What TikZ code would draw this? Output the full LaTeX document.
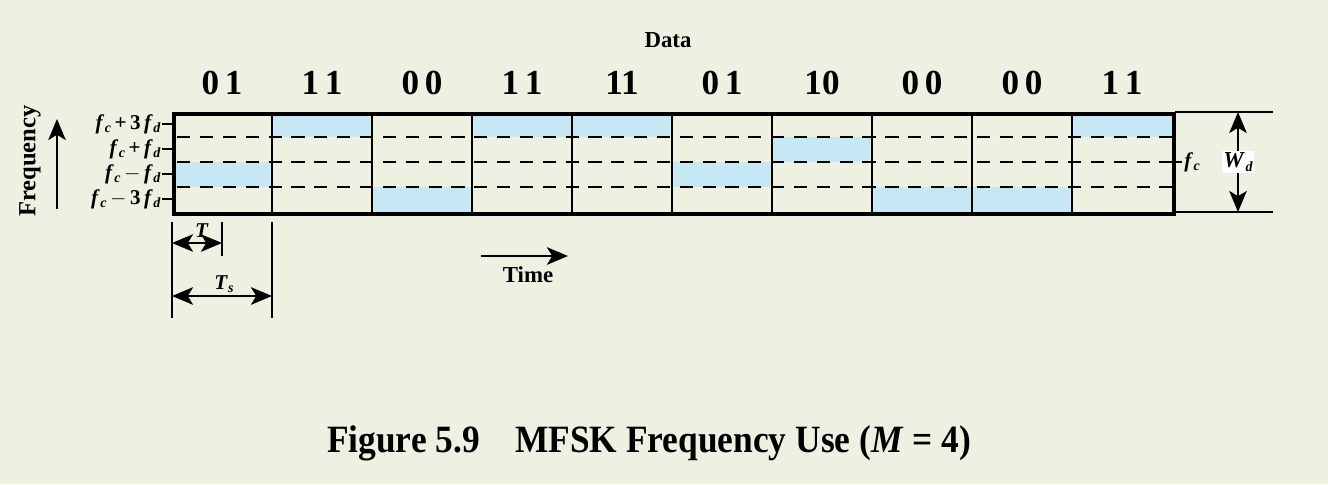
\documentclass[tikz,border=0pt]{standalone}
\usepackage{fontspec}
\setmainfont{Liberation Serif}
\usetikzlibrary{arrows.meta}
\definecolor{bg}{HTML}{EEF0E2}
\definecolor{hl}{HTML}{C8E7F5}
\newcommand{\fvar}[1]{\textit{f}\kern0.3pt\raisebox{-0.35ex}{\footnotesize\textit{#1}}}
\begin{document}
\begin{tikzpicture}[x=0.02cm,y=-0.02cm,
  lbl/.style={font=\bfseries\fontsize{12}{14}\selectfont, inner sep=0pt},
  digits/.style={font=\bfseries\fontsize{20}{24}\selectfont, inner sep=0pt},
  tip/.tip={Stealth[length=12pt,width=10pt,inset=3pt]},
  arr/.style={-tip, line width=0.9pt},
  darr/.style={tip-tip, line width=0.9pt},
  thin/.style={line width=0.8pt}]
\fill[bg] (0,0) rectangle (1328,484);
\useasboundingbox (0,0) rectangle (1328,484);
% highlights
\foreach \c/\r in {0/2,1/0,2/3,3/0,4/0,5/2,6/1,7/3,8/3,9/0}{
  \fill[hl] (172+\c*100,112+\r*25) rectangle (272+\c*100,137+\r*25);
}
% dashed rows
\foreach \y in {137,162,187}{
  \draw[dash pattern=on 7.5pt off 5.5pt, dash phase=-3pt, line width=0.9pt] (172,\y) -- (1172,\y);
}
% column separators
\foreach \x in {272,372,...,1072}{
  \draw[thin] (\x,112) -- (\x,212);
}
\node[draw, line width=2.2pt, minimum width=1000*0.02cm, minimum height=100*0.02cm, inner sep=0pt, anchor=north west] (box) at (172,112) {};
% data labels
\node[font=\bfseries\fontsize{13}{15}\selectfont] (data) at (668,40) {Data};
\foreach \t [count=\i from 0] in {0\,1,1\,1,0\,0,1\,1,11,0\,1,10,0\,0,0\,0,1\,1}{
  \node[digits] (d\i) at (222+\i*100,83) {\t};
}
% left ticks and labels
\foreach \y/\t in {124/{\fvar{c}\,+\,3\,\fvar{d}},149/{\fvar{c}\,+\,\fvar{d}},174/{\fvar{c}\,$-$\,\fvar{d}},199/{\fvar{c}\,$-$\,3\,\fvar{d}}}{
  \draw[thin] (162,\y) -- (172,\y);
  \node[lbl, anchor=east] at (161,\y) {\t};
}
% frequency
\node[font=\bfseries\fontsize{14}{16}\selectfont, rotate=90] (freq) at (30,161) {Frequency};
\coordinate (fa) at (57,209);
\coordinate (fb) at (57,119);
\draw[arr] (fa) -- (fb);
% right side
\draw[thin] (1172,162) -- (1182,162);
\node[lbl, anchor=west] (fc) at (1184,162) {\fvar{c}};
\coordinate (wt1) at (1175,112); \coordinate (wt2) at (1273,112);
\coordinate (wb1) at (1175,212); \coordinate (wb2) at (1273,212);
\draw[thin] (wt1) -- (wt2);
\draw[thin] (wb1) -- (wb2);
\coordinate (wa) at (1238,112); \coordinate (wb) at (1238,212);
\draw[darr] (wa) -- (wb);
\node[lbl, fill=white, inner sep=1pt, font=\bfseries\fontsize{13}{15}\selectfont] (wd) at (1238,162) {\textit{W}\kern0.3pt\raisebox{-0.35ex}{\footnotesize\textit{d}}};
% bottom T/Ts
\coordinate (v1a) at (172,222); \coordinate (v1b) at (172,318);
\coordinate (v2a) at (222,222); \coordinate (v2b) at (222,256);
\coordinate (v3a) at (272,222); \coordinate (v3b) at (272,318);
\draw[thin] (v1a) -- (v1b);
\draw[thin] (v2a) -- (v2b);
\draw[thin] (v3a) -- (v3b);
\coordinate (ta) at (172,243); \coordinate (tb) at (222,243);
\draw[darr] (ta) -- (tb);
\node[lbl] (tl) at (202,231) {\textit{T}};
\coordinate (tsa) at (172,296); \coordinate (tsb) at (272,296);
\draw[darr] (tsa) -- (tsb);
\node[lbl] (tsl) at (224,284) {\textit{T}\raisebox{-0.35ex}{\footnotesize\textit{s}}};
% time
\coordinate (ma) at (481,256); \coordinate (mb) at (568,256);
\draw[arr] (ma) -- (mb);
\node[font=\bfseries\fontsize{13}{15}\selectfont] (time) at (528,275) {Time};
% caption
\node[font=\bfseries\fontsize{22}{26}\selectfont] (cap) at (649,443) {\scalebox{0.915}[1]{Figure 5.9\quad MFSK Frequency Use (\textit{M} = 4)}};
\end{tikzpicture}
\end{document}
